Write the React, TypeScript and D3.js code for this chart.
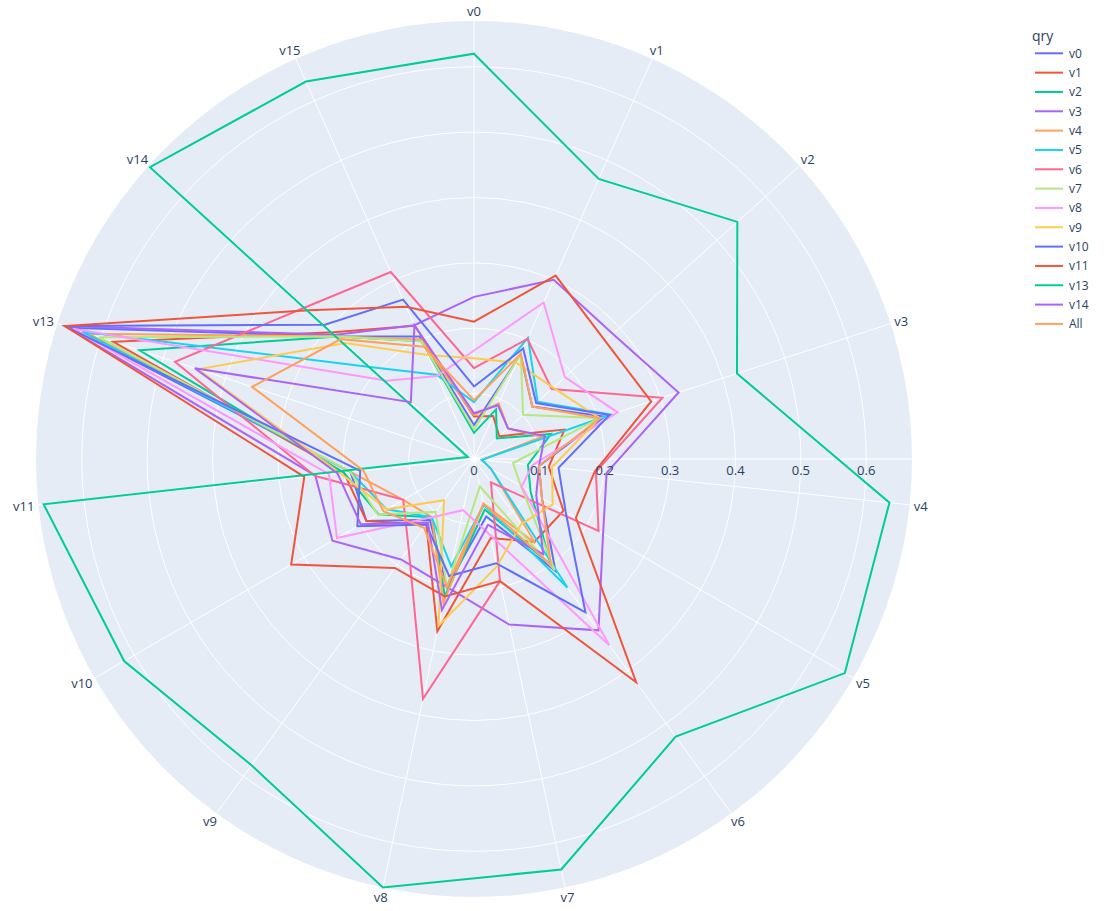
import React from 'react';
import * as d3 from 'd3';

// Angular categories (clockwise from the top)
const categories = ['v0', 'v1', 'v2', 'v3', 'v4', 'v5', 'v6', 'v7', 'v8', 'v9', 'v10', 'v11', 'v13', 'v14', 'v15'];

// Radial axis ticks
const radialTicks = [0, 0.1, 0.2, 0.3, 0.4, 0.5, 0.6];
const radialTickLabels = ['0', '0.1', '0.2', '0.3', '0.4', '0.5', '0.6'];

// One series per query, values in category order
const qry_v0 = [0.052, 0.175, 0.12, 0.21, 0.1, 0.12, 0.212, 0.09, 0.2, 0.115, 0.19, 0.19, 0.65, 0.28, 0.205];
const qry_v1 = [0.065, 0.072, 0.052, 0.1455, 0.115, 0.158, 0.157, 0.1235, 0.2695, 0.124, 0.19, 0.2, 0.58, 0.29, 0.223];
const qry_v2 = [0.04, 0.083, 0.047, 0.124, 0.083, 0.1, 0.2, 0.079, 0.2145, 0.11, 0.169, 0.2, 0.538, 0.28, 0.197];
const qry_v3 = [0.248, 0.3, 0.286, 0.329, 0.204, 0.228, 0.324, 0.259, 0.2, 0.19, 0.25, 0.244, 0.658, 0.284, 0.224];
const qry_v4 = [0.067, 0.093, 0.07, 0.11, 0.012, 0.03, 0.159, 0.07, 0.225, 0.11, 0.125, 0.19, 0.62, 0.28, 0.2];
const qry_v5 = [0.087, 0.203, 0.131, 0.22, 0.012, 0.03, 0.243, 0.072, 0.168, 0.11, 0.154, 0.19, 0.63, 0.21, 0.141];
const qry_v6 = [0.139, 0.201, 0.16, 0.303, 0.1875, 0.22, 0.044, 0.191, 0.375, 0.17, 0.125, 0.245, 0.481, 0.347, 0.313];
const qry_v7 = [0.045, 0.176, 0.101, 0.202, 0.06, 0.083, 0.21, 0.043, 0.2, 0.1, 0.17, 0.19, 0.603, 0.28, 0.197];
const qry_v8 = [0.166, 0.262, 0.187, 0.231, 0.09, 0.084, 0.352, 0.119, 0.08, 0.11, 0.242, 0.223, 0.645, 0.179, 0.139];
const qry_v9 = [0.154, 0.161, 0.163, 0.202, 0.12, 0.139, 0.123, 0.168, 0.261, 0.078, 0.154, 0.206, 0.444, 0.265, 0.174];
const qry_v10 = [0.111, 0.185, 0.128, 0.218, 0.13, 0.162, 0.29, 0.163, 0.183, 0.124, 0.206, 0.175, 0.658, 0.307, 0.267];
const qry_v11 = [0.21, 0.307, 0.27, 0.285, 0.1855, 0.18, 0.422, 0.191, 0.215, 0.206, 0.323, 0.261, 0.658, 0.34, 0.255];
const qry_v13 = [0.62, 0.469, 0.542, 0.423, 0.639, 0.655, 0.525, 0.642, 0.67, 0.579, 0.618, 0.662, 0.01, 0.667, 0.632];
const qry_v14 = [0.07, 0.09, 0.07, 0.114, 0.1, 0.11, 0.18, 0.103, 0.236, 0.12, 0.2, 0.21, 0.449, 0.13, 0.224];
const qry_All = [0.09, 0.176, 0.12, 0.202, 0.1, 0.12, 0.2, 0.07, 0.2, 0.13, 0.16, 0.17, 0.357, 0.274, 0.188];

const seriesNames = ['v0', 'v1', 'v2', 'v3', 'v4', 'v5', 'v6', 'v7', 'v8', 'v9', 'v10', 'v11', 'v13', 'v14', 'All'];
const seriesValues = [
  qry_v0, qry_v1, qry_v2, qry_v3, qry_v4, qry_v5, qry_v6, qry_v7,
  qry_v8, qry_v9, qry_v10, qry_v11, qry_v13, qry_v14, qry_All,
];
const seriesColors = [
  '#636efa', '#EF553B', '#00cc96', '#ab63fa', '#FFA15A', '#19d3f3', '#FF6692', '#B6E880',
  '#FF97FF', '#FECB52', '#636efa', '#EF553B', '#00cc96', '#ab63fa', '#FFA15A',
];

const WIDTH = 1104;
const HEIGHT = 911;
const CX = 474;
const CY = 459;
const RADIUS = 438;
const FONT = '"Open Sans", verdana, arial, sans-serif';
const TEXT = '#2a3f5f';

export default function App() {
  const rMax = d3.max(seriesValues, (s) => d3.max(s)) as number;
  const r = d3.scaleLinear().domain([0, rMax]).range([0, RADIUS]);
  const angle = d3
    .scalePoint<string>()
    .domain(categories)
    .range([0, 2 * Math.PI - (2 * Math.PI) / categories.length]);

  const line = d3
    .lineRadial<number>()
    .angle((_, i) => angle(categories[i]) as number)
    .radius((d) => r(d))
    .curve(d3.curveLinearClosed);

  const pt = (a: number, rad: number) => [Math.sin(a) * rad, -Math.cos(a) * rad];

  return (
    <svg
      width={WIDTH}
      height={HEIGHT}
      style={{ position: 'absolute', left: 0, top: 0, background: '#fff' }}
      fontFamily={FONT}
    >
      <g transform={`translate(${CX},${CY})`}>
        <circle r={RADIUS} fill="#E5ECF6" />
        {radialTicks.slice(1).map((t) => (
          <circle key={t} r={r(t)} fill="none" stroke="#fff" strokeWidth={1} />
        ))}
        {categories.map((c) => {
          const [x, y] = pt(angle(c) as number, RADIUS);
          return <line key={c} x1={0} y1={0} x2={x} y2={y} stroke="#fff" strokeWidth={1} />;
        })}
        <line x1={0} y1={0} x2={RADIUS} y2={0} stroke="#fff" strokeWidth={1} />

        {seriesValues.map((vals, i) => (
          <path
            key={seriesNames[i]}
            d={line(vals) || ''}
            fill="none"
            stroke={seriesColors[i]}
            strokeWidth={2}
            strokeLinejoin="miter"
          />
        ))}

        {radialTicks.map((t, i) => (
          <text
            key={t}
            x={r(t)}
            y={11}
            textAnchor="middle"
            dominantBaseline="central"
            fontSize={13}
            fill={TEXT}
          >
            {radialTickLabels[i]}
          </text>
        ))}

        {categories.map((c) => {
          const a = angle(c) as number;
          const [x, y] = pt(a, RADIUS + 4);
          const w = c.length * 7.2;
          return (
            <text
              key={c}
              x={x + Math.sin(a) * (w / 2)}
              y={y - Math.cos(a) * 6}
              textAnchor="middle"
              dominantBaseline="central"
              fontSize={13}
              fill={TEXT}
            >
              {c}
            </text>
          );
        })}
      </g>

      <g transform="translate(1032,0)">
        <text x={0} y={35} dominantBaseline="central" fontSize={14} fill={TEXT}>
          qry
        </text>
        {seriesNames.map((n, i) => {
          const y = 53.3 + i * 19.33;
          return (
            <g key={n + i}>
              <line x1={3} x2={31} y1={y} y2={y} stroke={seriesColors[i]} strokeWidth={2} />
              <text x={37} y={y} dominantBaseline="central" fontSize={12} fill={TEXT}>
                {n}
              </text>
            </g>
          );
        })}
      </g>
    </svg>
  );
}
